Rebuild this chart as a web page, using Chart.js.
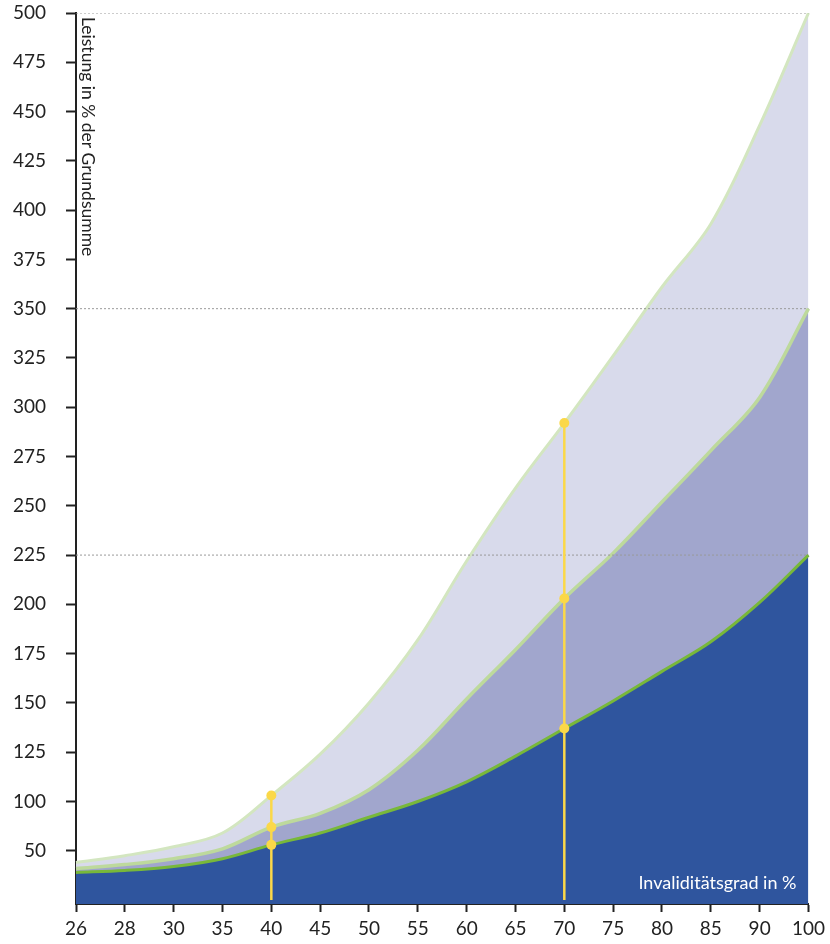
<!DOCTYPE html>
<html>
<head>
<meta charset="utf-8">
<title>Leistung nach Invaliditätsgrad</title>
<script src="https://cdn.jsdelivr.net/npm/chart.js@4.4.0/dist/chart.umd.min.js"></script>
<style>
  html, body { margin: 0; padding: 0; background: #fff; }
  #wrap { position: relative; width: 830px; height: 944px; }
</style>
</head>
<body>
<div id="wrap"><canvas id="chart" width="830" height="944"></canvas></div>
<script>
// Invaliditätsgrad categories (x axis)
const grades = ['26', '28', '30', '35', '40', '45', '50', '55', '60', '65', '70', '75', '80', '85', '90', '100'];

// Leistung curves (chart units)
const baseCurve = [64, 65, 67, 71, 78, 84, 92, 100, 110, 123, 137, 151, 166, 181, 201, 225];
const midCurve  = [66, 68, 71, 76, 87, 94, 106, 126, 152, 177, 203, 226, 252, 278, 305, 350];
const topCurve  = [69, 72.5, 77, 84, 103, 124, 150, 182, 222, 259, 292, 326, 361, 393, 443, 500];

// dotted reference levels and the two marked grades
const refLevels = [225, 350, 500];
const markerGrades = ['40', '70'];

// y axis: the original squeezes the bottom, the tick sitting at 75 reads "50"
const yTickValues = [75, 100, 125, 150, 175, 200, 225, 250, 275, 300, 325, 350, 375, 400, 425, 450, 475, 500];
const yTickLabels = ['50', '100', '125', '150', '175', '200', '225', '250', '275', '300', '325', '350', '375', '400', '425', '450', '475', '500'];
const yMin = 48;
const yMax = 500;

const FONT = 'Lato, "Open Sans", sans-serif';
const yellow = '#fbd848';

const datasets = [];

// areas: bottom first so its line is drawn last
datasets.push({
  label: 'base',
  data: baseCurve,
  borderColor: '#78b83a',
  borderWidth: 3,
  backgroundColor: '#2f559e',
  fill: 'start',
  pointRadius: 0,
  tension: 0.35,
  order: 2
});
datasets.push({
  label: 'mid',
  data: midCurve,
  borderColor: '#bdd99c',
  borderWidth: 3.5,
  backgroundColor: '#a1a6cd',
  fill: '-1',
  pointRadius: 0,
  tension: 0.35,
  order: 3
});
datasets.push({
  label: 'top',
  data: topCurve,
  borderColor: '#d3e6c0',
  borderWidth: 3,
  backgroundColor: '#d8daeb',
  fill: '-1',
  pointRadius: 0,
  tension: 0.35,
  order: 4
});

// dotted reference lines
refLevels.forEach(function (lvl) {
  datasets.push({
    label: 'ref ' + lvl,
    data: grades.map(function () { return lvl; }),
    borderColor: '#9a9a9a',
    borderWidth: 1,
    borderDash: [2, 2],
    pointRadius: 0,
    fill: false,
    order: 1
  });
});

// yellow markers at 40 and 70
markerGrades.forEach(function (g) {
  const i = grades.indexOf(g);
  datasets.push({
    label: 'marker ' + g,
    data: [
      { x: g, y: yMin + 2 },
      { x: g, y: baseCurve[i] },
      { x: g, y: midCurve[i] },
      { x: g, y: topCurve[i] }
    ],
    borderColor: yellow,
    backgroundColor: yellow,
    borderWidth: 2.5,
    pointRadius: [0, 5, 5, 5],
    pointBorderWidth: 0,
    fill: false,
    order: 0
  });
});

// texts inside the plot
const labelsPlugin = {
  id: 'axisTexts',
  afterDraw: function (chart) {
    const ctx = chart.ctx;
    const area = chart.chartArea;
    ctx.save();
    ctx.font = '17.5px ' + FONT;
    ctx.fillStyle = '#222';
    ctx.translate(area.left + 3, area.top + 4);
    ctx.rotate(Math.PI / 2);
    ctx.textAlign = 'left';
    ctx.textBaseline = 'bottom';
    ctx.fillText('Leistung in % der Grundsumme', 0, 0);
    ctx.restore();

    ctx.save();
    ctx.font = '18px ' + FONT;
    ctx.fillStyle = '#ffffff';
    ctx.textAlign = 'right';
    ctx.textBaseline = 'alphabetic';
    ctx.fillText('Invaliditätsgrad in %', area.right - 12, area.bottom - 15);
    ctx.restore();
  }
};

const ctx = document.getElementById('chart').getContext('2d');
const chart = new Chart(ctx, {
  type: 'line',
  data: { labels: grades, datasets: datasets },
  options: {
    responsive: false,
    animation: false,
    layout: { padding: { top: 13, right: 18, bottom: 0, left: 0 } },
    plugins: {
      legend: { display: false },
      title: { display: false },
      tooltip: { enabled: false },
      filler: { propagate: false }
    },
    scales: {
      x: {
        type: 'category',
        offset: false,
        grid: { color: 'transparent', tickColor: '#222', tickLength: 8, tickWidth: 2 },
        border: { color: '#222', width: 2 },
        ticks: { color: '#222', font: { family: FONT, size: 19 }, padding: 5, maxRotation: 0, autoSkip: false },
        afterFit: function (scale) {
          scale.height = 40;
          scale.paddingTop = 0;
        }
      },
      y: {
        min: yMin,
        max: yMax,
        grid: { color: 'transparent', tickColor: '#222', tickLength: 10, tickWidth: 2 },
        border: { color: '#222', width: 2 },
        ticks: {
          color: '#222',
          font: { family: FONT, size: 19 },
          padding: 20,
          callback: function (value) {
            const k = yTickValues.indexOf(value);
            return k >= 0 ? yTickLabels[k] : '';
          }
        },
        afterBuildTicks: function (scale) {
          scale.ticks = yTickValues.map(function (v) { return { value: v }; });
        },
        afterFit: function (scale) {
          scale.width = 76;
          scale.paddingTop = 0;
          scale.paddingBottom = 0;
        }
      }
    }
  },
  plugins: [labelsPlugin]
});
</script>
</body>
</html>
